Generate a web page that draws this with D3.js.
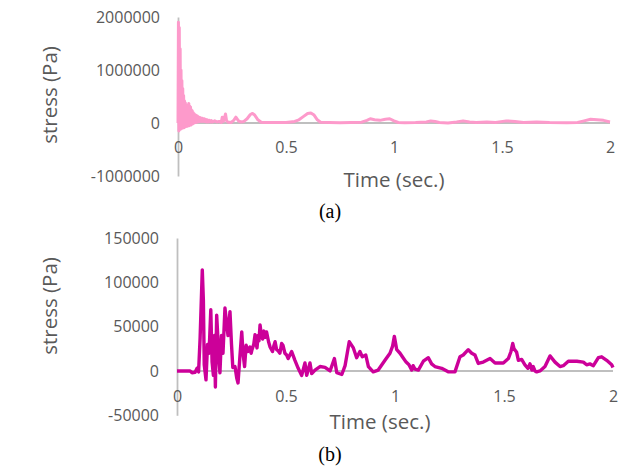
<!DOCTYPE html>
<html>
<head>
<meta charset="utf-8">
<script src="https://cdn.jsdelivr.net/npm/d3@7"></script>
<style>
  html, body { margin: 0; padding: 0; background: #fff; }
  svg { display: block; }
</style>
</head>
<body>
<svg id="chart" width="624" height="468"></svg>
<script>
// (a) stress history – time (s) and stress (Pa)
const timeA = [
  0, 0.002, 0.004, 0.006, 0.008, 0.010, 0.012, 0.014, 0.016, 0.018, 0.020,
  0.022, 0.024, 0.026, 0.028, 0.030, 0.032, 0.034, 0.036, 0.038, 0.040,
  0.042, 0.044, 0.046, 0.048, 0.050, 0.052, 0.054, 0.056, 0.058, 0.060,
  0.062, 0.064, 0.066, 0.068, 0.070, 0.072, 0.074, 0.076, 0.078, 0.080,
  0.082, 0.084, 0.086, 0.088, 0.090, 0.092, 0.094, 0.096, 0.098, 0.100,
  0.104, 0.108, 0.112, 0.116, 0.120, 0.124, 0.128, 0.132, 0.136, 0.140,
  0.145, 0.150, 0.155, 0.160, 0.170, 0.180, 0.190, 0.200,
  0.205, 0.210, 0.215, 0.220, 0.225, 0.230, 0.245, 0.258, 0.268, 0.280,
  0.290, 0.305, 0.320, 0.335, 0.345, 0.355, 0.370, 0.385, 0.400, 0.450,
  0.500, 0.540, 0.560, 0.580, 0.600, 0.615, 0.630, 0.645, 0.660, 0.700,
  0.750, 0.800, 0.850, 0.875, 0.890, 0.910, 0.935, 0.960, 0.980, 1.000,
  1.020, 1.050, 1.100, 1.150, 1.170, 1.190, 1.210, 1.250, 1.290, 1.320,
  1.350, 1.380, 1.430, 1.470, 1.520, 1.560, 1.600, 1.660, 1.720, 1.800,
  1.850, 1.880, 1.910, 1.940, 1.970, 2.000
];
const stressA = [
  0, 1900000, -150000, 1800000, -100000, 1400000, -120000, 1000000, -80000, 800000, -100000,
  650000, -60000, 520000, -90000, 420000, -50000, 380000, -70000, 330000, -40000,
  300000, -60000, 340000, -30000, 370000, -50000, 320000, -20000, 300000, -40000,
  250000, 0, 230000, -20000, 200000, 10000, 180000, 0, 160000, 20000,
  150000, 10000, 140000, 20000, 130000, 20000, 120000, 30000, 110000, 30000,
  100000, 30000, 90000, 30000, 80000, 30000, 70000, 20000, 60000, 20000,
  50000, 20000, 45000, 20000, 40000, 20000, 30000, 10000,
  110000, 30000, 90000, 170000, 40000, 20000, 10000, 50000, 110000, 40000,
  20000, 30000, 80000, 160000, 180000, 150000, 60000, 15000, 10000, 8000,
  10000, 30000, 60000, 120000, 180000, 190000, 150000, 60000, 15000, 10000,
  5000, 10000, 15000, 50000, 80000, 60000, 50000, 70000, 80000, 40000,
  10000, 5000, 10000, 20000, 40000, 30000, 10000, 0, 20000, 40000,
  20000, 10000, 20000, 10000, 40000, 30000, 10000, 20000, 10000, 5000,
  10000, 40000, 70000, 60000, 50000, 20000
];

// (b) stress history – time (s) and stress (Pa)
const timeB = [
  0, 0.060, 0.069, 0.083, 0.092, 0.099, 0.106, 0.116, 0.121, 0.125,
  0.133, 0.140, 0.147, 0.155, 0.161, 0.167, 0.172, 0.176, 0.182, 0.188,
  0.193, 0.197, 0.204, 0.211, 0.220, 0.227, 0.234, 0.243, 0.250, 0.256,
  0.266, 0.274, 0.280, 0.289, 0.297, 0.303, 0.310, 0.317, 0.326, 0.335,
  0.340, 0.344, 0.352, 0.358, 0.362, 0.367, 0.372, 0.376, 0.381, 0.387,
  0.393, 0.399, 0.405, 0.411, 0.420, 0.427, 0.438, 0.445, 0.450,
  0.457, 0.463, 0.472, 0.480, 0.486, 0.495, 0.503, 0.510, 0.526, 0.541,
  0.556, 0.572, 0.587,
  0.595, 0.610, 0.618, 0.633, 0.656, 0.679, 0.702, 0.722, 0.733, 0.756,
  0.771, 0.790, 0.809, 0.824, 0.839, 0.850, 0.866, 0.878, 0.900, 0.923,
  0.954, 0.977, 0.989, 0.997, 1.008, 1.023, 1.037, 1.051, 1.064, 1.077,
  1.083, 1.092, 1.107, 1.130, 1.153, 1.168, 1.183, 1.214, 1.244, 1.275,
  1.298, 1.313, 1.336, 1.352, 1.367, 1.382, 1.405, 1.436, 1.459, 1.497,
  1.520, 1.532, 1.540, 1.546, 1.558, 1.566, 1.581, 1.596, 1.610, 1.619,
  1.628, 1.634, 1.642, 1.650, 1.665, 1.688, 1.711, 1.734, 1.757, 1.772,
  1.795, 1.834, 1.864, 1.879, 1.894, 1.910, 1.933, 1.948, 1.971, 1.994,
  2.000
];
const stressB = [
  0, 0, -2000, -1500, 3000, -1000, 37000, 114000, 80000, 7000,
  -10000, 30000, 20000, 69000, 10000, -5000, 40000, -18000, 63000, 35000,
  10000, -2000, 40000, 20000, 71000, 55000, 40000, 67000, 30000, 4000,
  5000, -8000, -13500, 18000, 44000, 20000, 5000, 29000, 22000, 27000,
  20000, 24000, 30000, 41000, 32000, 26000, 40000, 34000, 52000, 40000,
  36000, 45000, 38000, 44000, 33000, 27000, 22000, 29000, 33000,
  24000, 23000, 20000, 31000, 29000, 20000, 18000, 14000, 22000, 12000,
  3000, -5000, 9000,
  -5000, 9000, -3000, 1000, 5000, 4000, 0, 14000, -2000, -4000,
  6000, 33000, 26000, 15000, 22000, 16000, 18000, 5000, -1000, 1000,
  12000, 20000, 28000, 39000, 24000, 20000, 15000, 10000, 7000, 1000,
  6000, 2000, 1000, 11000, 15000, 8000, 5000, 3000, -1000, -1000,
  16000, 18000, 24000, 20000, 18000, 8500, 10000, 14000, 9000, 9000,
  14000, 22000, 31000, 25000, 21000, 12000, 13000, 7000, 3000, 8000,
  1000, 5000, 0, -1000, 0, 5000, 17000, 10000, 5000, 6000,
  11000, 11000, 10000, 7000, 8000, 6000, 15000, 16000, 12000, 7000,
  4000
];

const xTicks = [0, 0.5, 1, 1.5, 2];
const yTicksA = [-1000000, 0, 1000000, 2000000];
const yTicksB = [-50000, 0, 50000, 100000, 150000];

const svg = d3.select("#chart");
const font = "'Open Sans', 'Noto Sans', sans-serif";
const textGray = "#595959";
const axisGray = "#bfbfbf";

function panel(cfg) {
  const x = d3.scaleLinear().domain([0, 2]).range([cfg.x0, cfg.x1]);
  const y = d3.scaleLinear().domain(cfg.yDomain).range([cfg.yBottom, cfg.yTop]);
  const g = svg.append("g");

  // horizontal zero line
  g.append("line")
    .attr("x1", x(0)).attr("x2", x(2))
    .attr("y1", y(0)).attr("y2", y(0))
    .attr("stroke", axisGray).attr("stroke-width", 1.8);

  // vertical axis line with value labels
  const yAxis = d3.axisLeft(y).tickValues(cfg.yTicks).tickSize(0).tickPadding(18)
    .tickFormat(d3.format("d"));
  const ya = g.append("g").attr("transform", `translate(${x(0)},0)`).call(yAxis);
  ya.select(".domain").attr("stroke", axisGray).attr("stroke-width", 1.8);
  ya.selectAll("text").attr("font-family", font).attr("font-size", 16)
    .attr("fill", textGray).text(d => d < 0 ? "-" + Math.abs(d) : d);

  // time labels
  const xAxis = d3.axisBottom(x).tickValues(xTicks).tickSize(0).tickPadding(0)
    .tickFormat(d => String(d));
  const xa = g.append("g").attr("transform", `translate(0,${cfg.xLabelY})`).call(xAxis);
  xa.select(".domain").remove();
  xa.selectAll("text").attr("font-family", font).attr("font-size", 16)
    .attr("fill", textGray).attr("dy", "0.35em").attr("y", 0);

  // series
  const line = d3.line().x(d => x(d[0])).y(d => y(d[1]));
  g.append("path")
    .datum(cfg.t.map((t, i) => [t, cfg.v[i]]))
    .attr("d", line)
    .attr("fill", "none")
    .attr("stroke", cfg.color)
    .attr("stroke-width", cfg.width)
    .attr("stroke-linejoin", "round");

  // axis titles
  g.append("text")
    .attr("transform", `translate(${cfg.yTitleX},${cfg.yTitleY}) rotate(-90)`)
    .attr("text-anchor", "middle").attr("dy", "0.35em")
    .attr("font-family", font).attr("font-size", 20.5).attr("fill", textGray)
    .text("stress (Pa)");
  g.append("text")
    .attr("x", cfg.xTitleX).attr("y", cfg.xTitleY)
    .attr("text-anchor", "middle")
    .attr("font-family", font).attr("font-size", 20.5).attr("fill", textGray)
    .text("Time (sec.)");

  // panel caption
  g.append("text")
    .attr("x", cfg.capX).attr("y", cfg.capY)
    .attr("text-anchor", "middle")
    .attr("font-family", "'Liberation Serif', 'DejaVu Serif', serif")
    .attr("font-size", 20).attr("fill", "#000")
    .text(cfg.caption);
}

panel({
  x0: 178, x1: 610, yTop: 17, yBottom: 176,
  yDomain: [-1000000, 2000000], yTicks: yTicksA,
  xLabelY: 147.5,
  t: timeA, v: stressA, color: "#fd9acb", width: 3,
  yTitleX: 50, yTitleY: 95,
  xTitleX: 394, xTitleY: 187,
  capX: 330, capY: 218, caption: "(a)"
});

panel({
  x0: 177, x1: 613, yTop: 238, yBottom: 415.3,
  yDomain: [-50000, 150000], yTicks: yTicksB,
  xLabelY: 396,
  t: timeB, v: stressB, color: "#cc0099", width: 3.4,
  yTitleX: 50, yTitleY: 306,
  xTitleX: 380, xTitleY: 429,
  capX: 330, capY: 461, caption: "(b)"
});
</script>
</body>
</html>
